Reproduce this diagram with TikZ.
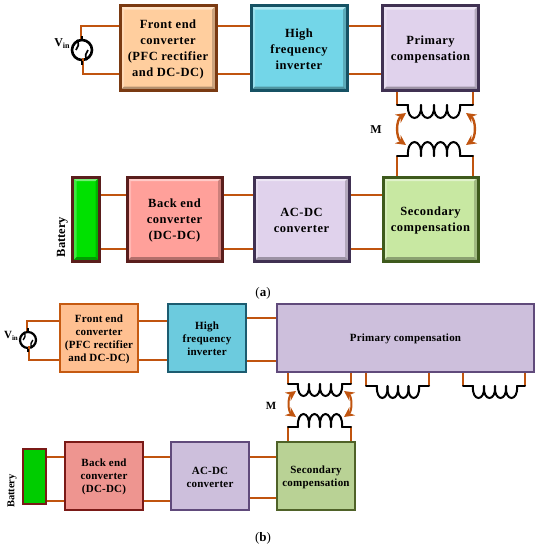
\documentclass[tikz,border=0pt]{standalone}
\usepackage{fontspec}
\setmainfont{Liberation Serif}
\newfontfamily\txtA[LetterSpace=4]{Liberation Serif}
\newfontfamily\txtB[LetterSpace=2]{Liberation Serif}
\usetikzlibrary{arrows.meta,calc}
\newcommand\tl{\rule{0pt}{.9em}}
\newcommand\coilrun[5]{%
  \pgfmathsetmacro\cw{(#2-#1)/#5}%
  \foreach \i in {1,...,#5}{%
    \pgfmathsetmacro\xa{#1+(\i-1)*\cw}%
    \pgfmathsetmacro\xb{\xa+\cw}%
    \draw[coilline] (\xa,#3) .. controls (\xa-1.5,#3+1.33*#4) and (\xb+1.5,#3+1.33*#4) .. (\xb,#3);}}
\newcommand\sinemark[3]{%
  \draw[black,line width=#2] ($(#1)+(-#3*6pt,0)$) .. controls ($(#1)+(-#3*4.5pt,#3*4pt)$) and ($(#1)+(-#3*2pt,#3*4pt)$) .. (#1) .. controls ($(#1)+(#3*2pt,-#3*4pt)$) and ($(#1)+(#3*4.5pt,-#3*4pt)$) .. ($(#1)+(#3*6pt,0)$);}
\definecolor{wirecol}{HTML}{C0540F}
\definecolor{afd}{HTML}{7A3A12}\definecolor{aff}{HTML}{FFCE9E}
\definecolor{ahd}{HTML}{165264}\definecolor{ahf}{HTML}{73D6E8}
\definecolor{apd}{HTML}{403152}\definecolor{apf}{HTML}{E0D2EC}
\definecolor{asd}{HTML}{3E5A1C}\definecolor{asf}{HTML}{C8E8A2}
\definecolor{abd}{HTML}{5A1E1C}\definecolor{abf}{HTML}{FFA09A}
\definecolor{agf}{HTML}{00E100}
\definecolor{bfd}{HTML}{C55A11}\definecolor{bff}{HTML}{FFC091}
\definecolor{bhd}{HTML}{1C5C70}\definecolor{bhf}{HTML}{6CCBDE}
\definecolor{bpd}{HTML}{604A7B}\definecolor{bpf}{HTML}{CDBFDC}
\definecolor{bsd}{HTML}{4F6228}\definecolor{bsf}{HTML}{B9D295}
\definecolor{bbd}{HTML}{7A1A17}\definecolor{bbf}{HTML}{EE9590}
\definecolor{bgf}{HTML}{00CC00}
\tikzset{
  x=1pt,y=-1pt,
  flat/.style={draw=#1,line width=2pt,align=center,font=\fontsize{11}{13}\selectfont\txtB\bfseries,inner sep=0pt},
  bev/.style={draw=#1,line width=3pt,align=center,font=\fontsize{12.5}{16}\selectfont\txtA\bfseries,inner sep=0pt,
    path picture={
      \coordinate (nw) at (path picture bounding box.north west);
      \coordinate (ne) at (path picture bounding box.north east);
      \coordinate (sw) at (path picture bounding box.south west);
      \coordinate (se) at (path picture bounding box.south east);
      \fill[white,opacity=.45] (nw)--(ne)--($(ne)+(-4pt,-4pt)$)--($(nw)+(4pt,-4pt)$)--cycle;
      \fill[white,opacity=.25] (nw)--(sw)--($(sw)+(4pt,4pt)$)--($(nw)+(4pt,-4pt)$)--cycle;
      \fill[black,opacity=.2] (ne)--(se)--($(se)+(-4pt,4pt)$)--($(ne)+(-4pt,-4pt)$)--cycle;
      \fill[black,opacity=.3] (sw)--(se)--($(se)+(-4pt,4pt)$)--($(sw)+(4pt,4pt)$)--cycle;
    }},
  wirea/.style={draw=wirecol,line width=2.5pt},
  wireb/.style={draw=wirecol,line width=2pt},
  coilline/.style={draw=black,line width=2pt,line cap=round},
  coupl/.style={draw=wirecol,line width=2.4pt,{Stealth[length=10pt,width=10pt]}-{Stealth[length=10pt,width=10pt]}},
  lab/.style={font=\fontsize{11}{13}\selectfont\bfseries,inner sep=0pt},
  srcnode/.style={circle,draw=black,line width=#1,fill=white,inner sep=0pt},
}
\begin{document}
\begin{tikzpicture}
\useasboundingbox (0,0) rectangle (540,550);
% ---------- (a) ----------
\node[bev=afd,fill=aff,minimum width=96pt,minimum height=85pt] (fa) at (168,48) {\tl Front end\\converter\\(PFC rectifier\\and DC-DC)};
\node[bev=ahd,fill=ahf,minimum width=96pt,minimum height=85pt] (ha) at (299,48) {\tl High\\frequency\\inverter};
\node[bev=apd,fill=apf,minimum width=96pt,minimum height=85pt] (pa) at (430.5,48) {\tl Primary\\compensation};
\node[bev=asd,fill=asf,minimum width=95pt,minimum height=84pt] (sa) at (430.5,219) {\tl Secondary\\compensation};
\node[bev=apd,fill=apf,minimum width=95pt,minimum height=84pt] (ca) at (301.5,219) {\tl AC-DC\\converter};
\node[bev=abd,fill=abf,minimum width=95pt,minimum height=84pt] (ba) at (174.5,219) {\tl Back end\\converter\\(DC-DC)};
\node[bev=abd,fill=agf,minimum width=27pt,minimum height=84pt] (bta) at (86,219) {};
\node[lab,rotate=90,font=\fontsize{12.5}{14}\selectfont\bfseries] (btla) at (62.5,237) {Battery};
\coordinate (ya1) at (0,26); \coordinate (ya2) at (0,74);
\coordinate (ya3) at (0,195); \coordinate (ya4) at (0,249);
\node[srcnode=2.6pt,minimum size=20pt] (va) at (82,50) {};
\sinemark{va}{1.7pt}{1}
\draw[wirea] (va.north) ++(-1pt,0) |- (fa.west |- ya1);
\draw[wirea] (va.south) ++(1pt,3pt) |- (fa.west |- ya2);
\draw[black,line width=1.8pt] (va.north)--++(0,3pt) (va.south)--++(0,-4pt);
\node[lab,font=\fontsize{12}{14}\selectfont\bfseries] (vla) at (62,44) {V\raisebox{-.35ex}{\fontsize{8}{9}\selectfont in}};
\foreach \p/\q in {fa/ha,ha/pa}{
  \draw[wirea] (\p.east |- ya1) -- (\q.west |- ya1);
  \draw[wirea] (\p.east |- ya2) -- (\q.west |- ya2);}
\foreach \p/\q in {bta/ba,ba/ca,ca/sa}{
  \draw[wirea] (\p.east |- ya3) -- (\q.west |- ya3);
  \draw[wirea] (\p.east |- ya4) -- (\q.west |- ya4);}
% transformer a
\coordinate (tau1) at (397,105); \coordinate (tau2) at (473,105);
\coordinate (tau3) at (408,105); \coordinate (tau4) at (460,105);
\coordinate (tal1) at (397,156); \coordinate (tal2) at (473,156);
\coordinate (tal3) at (408,156); \coordinate (tal4) at (460,156);
\draw[wirea] (pa.south -| tau1) -- (tau1);
\draw[wirea] (pa.south -| tau2) -- (tau2);
\draw[wirea] (sa.north -| tal1) -- (tal1);
\draw[wirea] (sa.north -| tal2) -- (tal2);
\draw[coilline] (tau1)--(tau3) (tau4)--(tau2) (tal1)--(tal3) (tal4)--(tal2);
\coilrun{408}{460}{105}{13}{4}
\coilrun{408}{460}{156}{-14}{4}
\coordinate (aa1) at (406,113); \coordinate (aa2) at (406,145);
\coordinate (aa3) at (466,113); \coordinate (aa4) at (466,145);
\draw[coupl] (aa1) to[bend right=55] (aa2);
\draw[coupl] (aa3) to[bend left=55] (aa4);
\node[lab,font=\fontsize{12}{14}\selectfont\bfseries] (ma) at (376,130) {M};
\node[font=\fontsize{13}{15}\selectfont,inner sep=0pt] (la) at (263,293) {(\textbf{a})};
% ---------- (b) ----------
\node[flat=bfd,fill=bff,minimum width=78pt,minimum height=68pt] (fb) at (99,338) {\tl Front end\\converter\\(PFC rectifier\\and DC-DC)};
\node[flat=bhd,fill=bhf,minimum width=78pt,minimum height=68pt] (hb) at (207,338) {\tl High\\frequency\\inverter};
\node[flat=bpd,fill=bpf,minimum width=257pt,minimum height=68pt] (pb) at (405.5,338) {\tl Primary compensation};
\node[flat=bsd,fill=bsf,minimum width=78pt,minimum height=68pt] (sb) at (316,476) {\tl Secondary\\compensation};
\node[flat=bpd,fill=bpf,minimum width=78pt,minimum height=68pt] (cb) at (210,476) {\tl AC-DC\\converter};
\node[flat=bbd,fill=bbf,minimum width=78pt,minimum height=68pt] (bb) at (104,476) {\tl Back end\\converter\\(DC-DC)};
\node[flat=bbd,fill=bgf,minimum width=23pt,minimum height=55pt] (btb) at (34.5,476.5) {};
\node[lab,rotate=90,font=\fontsize{10.5}{12}\selectfont\bfseries] (btlb) at (12,491) {Battery};
\coordinate (yb1) at (0,321); \coordinate (yb2) at (0,360);
\coordinate (yb3) at (0,318); \coordinate (yb4) at (0,361);
\coordinate (yb5) at (0,457); \coordinate (yb6) at (0,501); \coordinate (yb7) at (0,498);
\node[srcnode=2.2pt,minimum size=16pt] (vb) at (28,340) {};
\sinemark{vb}{1.4pt}{.8}
\draw[wireb] (vb.north) ++(-1pt,0) |- (fb.west |- yb1);
\draw[wireb] (vb.south) ++(1pt,3pt) |- (fb.west |- yb2);
\draw[black,line width=1.5pt] (vb.north)--++(0,3pt) (vb.south)--++(0,-3pt);
\node[lab] (vlb) at (11,336) {V\raisebox{-.35ex}{\fontsize{7}{8}\selectfont in}};
\draw[wireb] (fb.east |- yb1) -- (hb.west |- yb1);
\draw[wireb] (fb.east |- yb2) -- (hb.west |- yb2);
\draw[wireb] (hb.east |- yb3) -- (pb.west |- yb3);
\draw[wireb] (hb.east |- yb4) -- (pb.west |- yb4);
\draw[wireb] (btb.east |- yb5) -- (bb.west |- yb5);
\draw[wireb] (btb.east |- yb6) -- (bb.west |- yb6);
\draw[wireb] (bb.east |- yb5) -- (cb.west |- yb5);
\draw[wireb] (bb.east |- yb6) -- (cb.west |- yb6);
\draw[wireb] (cb.east |- yb5) -- (sb.west |- yb5);
\draw[wireb] (cb.east |- yb7) -- (sb.west |- yb7);
% transformers b
\coordinate (t1a) at (288,384); \coordinate (t1b) at (351,384);
\coordinate (t2a) at (366,386); \coordinate (t2b) at (429,386);
\coordinate (t3a) at (463,386); \coordinate (t3b) at (525,386);
\coordinate (t4a) at (288,427); \coordinate (t4b) at (351,427);
\draw[wireb] (pb.south -| t1a) -- (t1a);
\draw[wireb] (pb.south -| t1b) -- (t1b);
\draw[wireb] (pb.south -| t2a) -- (t2a);
\draw[wireb] (pb.south -| t2b) -- (t2b);
\draw[wireb] (pb.south -| t3a) -- (t3a);
\draw[wireb] (pb.south -| t3b) -- (t3b);
\draw[wireb] (sb.north -| t4a) -- (t4a);
\draw[wireb] (sb.north -| t4b) -- (t4b);
\draw[coilline] (t1a)--(298,384) (342,384)--(t1b) (t2a)--(377,386) (419,386)--(t2b) (t3a)--(473,386) (517,386)--(t3b) (t4a)--(298,427) (342,427)--(t4b);
\coilrun{298}{342}{384}{12}{4}
\coilrun{377}{419}{386}{12}{4}
\coilrun{473}{517}{386}{12}{4}
\coilrun{298}{342}{427}{-13}{4}
\coordinate (ab1) at (296,391); \coordinate (ab2) at (296,417);
\coordinate (ab3) at (344,391); \coordinate (ab4) at (344,417);
\draw[coupl,line width=2pt] (ab1) to[bend right=55] (ab2);
\draw[coupl,line width=2pt] (ab3) to[bend left=55] (ab4);
\node[lab] (mb) at (271,406) {M};
\node[font=\fontsize{13}{15}\selectfont,inner sep=0pt] (lb) at (263,538) {(\textbf{b})};
\end{tikzpicture}
\end{document}
